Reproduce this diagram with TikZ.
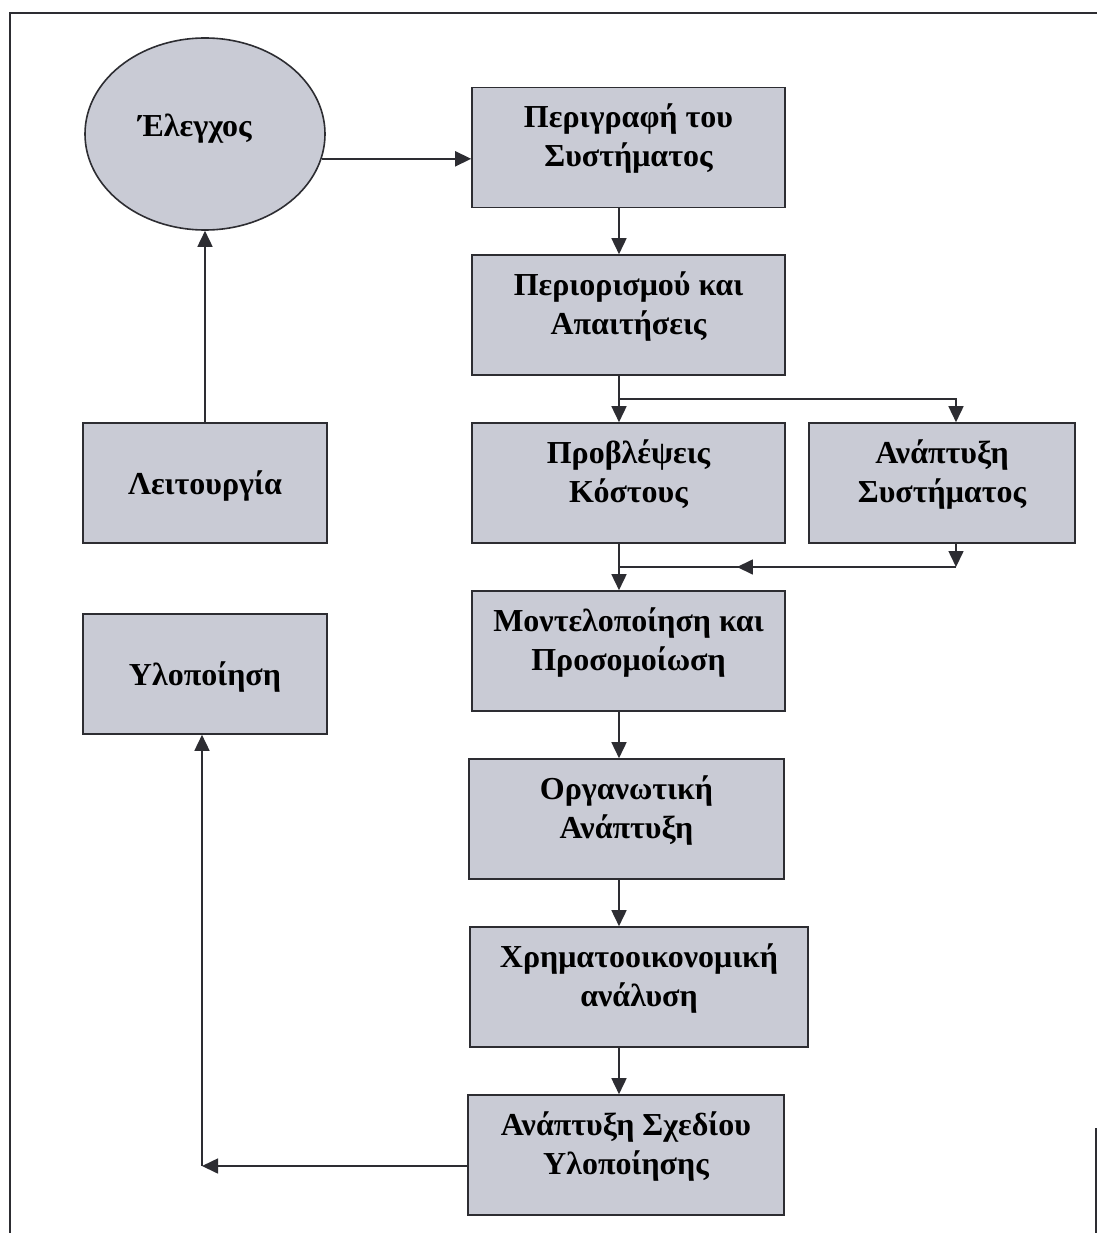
\documentclass[tikz,border=0pt]{standalone}
\usepackage{fontspec}
\setmainfont{Liberation Serif}
\usetikzlibrary{shapes.geometric,arrows.meta,decorations.markings}
\definecolor{boxfill}{RGB}{201,203,213}
\definecolor{ink}{RGB}{45,45,50}
\tikzset{
  labelfont/.style={font=\fontsize{32}{39}\selectfont\bfseries},
  stagebox/.style={draw=ink, line width=1.6pt, fill=boxfill, rectangle,
    inner sep=0pt, minimum height=120pt, align=center, labelfont},
  twoline/.style={text height=64pt, text depth=25pt},
  oneline/.style={text depth=0pt},
  flow/.style={draw=ink, line width=1.6pt, -{Triangle[length=16pt,width=15pt]}},
  plainline/.style={draw=ink, line width=1.6pt},
  midleft/.style={decoration={markings,
      mark=at position 0.65 with {\arrow{Triangle[length=16pt,width=15pt]}}},
      postaction={decorate}},
  frameline/.style={draw=ink, line width=2pt}
}
\begin{document}
\begin{tikzpicture}[x=1pt,y=-1pt]
\useasboundingbox (0,0) rectangle (1097,1233);
% outer frame
\draw[frameline] (10,1233) -- (10,13) -- (1097,13);
\draw[frameline] (1096,1128) -- (1096,1233);

% control ellipse
\node[ellipse, draw=ink, line width=1.6pt, fill=boxfill, inner sep=0pt,
      minimum width=240pt, minimum height=192pt] (ctrl) at (205,134) {};
\node[labelfont] (ctrltext) at (195,129) {Έλεγχος};

% main column
\node[stagebox, twoline, minimum width=313pt] (desc) at (628.5,147.5) {Περιγραφή του\\Συστήματος};
\node[stagebox, twoline, minimum width=313pt] (req)  at (628.5,315)   {Περιορισμού και\\Απαιτήσεις};
\node[stagebox, twoline, minimum width=313pt] (cost) at (628.5,483)   {Προβλέψεις\\Κόστους};
\node[stagebox, twoline, minimum width=266pt] (sysd) at (942,483)     {Ανάπτυξη\\Συστήματος};
\node[stagebox, twoline, minimum width=313pt] (model) at (628.5,651)  {Μοντελοποίηση και\\Προσομοίωση};
\node[stagebox, twoline, minimum width=315pt] (org)  at (626.5,819)   {Οργανωτική\\Ανάπτυξη};
\node[stagebox, twoline, minimum width=338pt] (fin)  at (639,987)     {Χρηματοοικονομική\\ανάλυση};
\node[stagebox, twoline, minimum width=316pt] (plan) at (626,1155)    {Ανάπτυξη Σχεδίου\\Υλοποίησης};

% left column
\node[stagebox, oneline, minimum width=244pt] (oper) at (205,483) {Λειτουργία};
\node[stagebox, oneline, minimum width=244pt] (impl) at (205,674) {Υλοποίηση};

% helper points
\coordinate (colx) at (619,0);
\coordinate (split) at (619,399);
\coordinate (splitR) at (956,399);
\coordinate (joinR) at (956,567);
\coordinate (join) at (619,567);
\coordinate (corner) at (202,1166);

% connectors
\draw[flow] (ctrl.-12) -- (ctrl.-12 -| desc.west);
\draw[flow] (desc.south -| colx) -- (req.north -| colx);
\draw[flow] (req.south -| colx) -- (cost.north -| colx);
\draw[flow] (split) -- (splitR) -- (sysd.north -| splitR);
\draw[flow] (cost.south -| colx) -- (model.north -| colx);
\draw[flow] (sysd.south -| joinR) -- (joinR);
\draw[plainline, midleft] (joinR) -- (join);
\draw[flow] (model.south -| colx) -- (org.north -| colx);
\draw[flow] (org.south -| colx) -- (fin.north -| colx);
\draw[flow] (fin.south -| colx) -- (plan.north -| colx);
\draw[flow] (plan.west |- corner) -- (corner);
\draw[flow] (corner) -- (impl.south -| corner);
\draw[flow] (oper.north) -- (ctrl.south);
\end{tikzpicture}
\end{document}
